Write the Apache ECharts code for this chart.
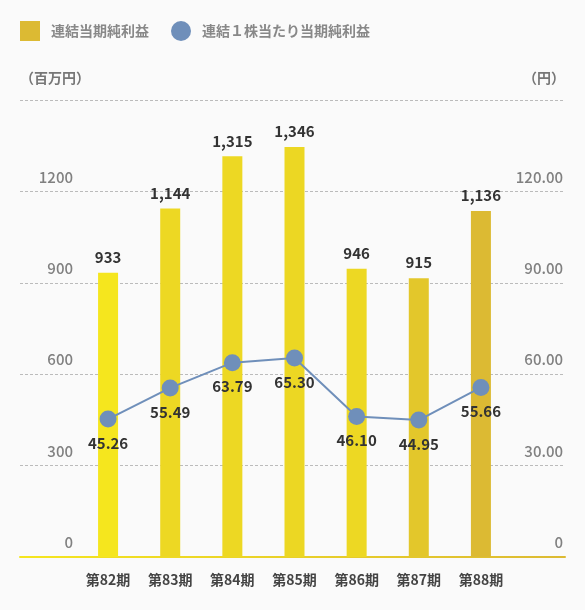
<!DOCTYPE html>
<html lang="ja">

<head>
    <meta charset="UTF-8">
    <title>連結当期純利益</title>
    <style>
        html, body { margin: 0; padding: 0; background: #fafafa; }
    </style>
</head>

<body>
    <div id="main" style="width: 585px;height:610px;"></div>
</body>
<script src="https://cdn.jsdelivr.net/npm/echarts@6/dist/echarts.min.js"></script>

<script>
    // データ
    var periods = ['第82期', '第83期', '第84期', '第85期', '第86期', '第87期', '第88期'];
    var netIncome = [933, 1144, 1315, 1346, 946, 915, 1136];
    var eps = [45.26, 55.49, 63.79, 65.30, 46.10, 44.95, 55.66];
    var leftTicks = [0, 300, 600, 900, 1200];
    var rightTicks = [0, 30, 60, 90, 120];

    var barColors = ['#f5e61e', '#edd823', '#edd823', '#ecd723', '#edd823', '#e3c72b', '#dcba33'];
    var font = '"Noto Sans CJK JP", "Noto Sans", sans-serif';

    var myChart = echarts.init(document.getElementById('main'));

    myChart.setOption({
        backgroundColor: '#fafafa',
        textStyle: { fontFamily: font },
        legend: {
            left: 15,
            top: 16,
            itemWidth: 20,
            itemHeight: 20,
            itemGap: 22,
            textStyle: { color: '#888', fontSize: 14, fontWeight: 'bold', padding: [0, 0, 0, 6] },
            data: [
                { name: '連結当期純利益', icon: 'rect' },
                { name: '連結１株当たり当期純利益', icon: 'circle' }
            ]
        },
        grid: [
            // 罫線・目盛用
            { left: 20, right: 20, top: 100, bottom: 53 },
            // 棒・線用
            { left: 77, right: 73, top: 100, bottom: 53 }
        ],
        xAxis: [{
            gridIndex: 0,
            type: 'value',
            min: 0,
            max: 1,
            axisLabel: { show: false },
            axisTick: { show: false },
            splitLine: { show: false },
            axisLine: {
                show: true,
                onZero: false,
                lineStyle: {
                    width: 2,
                    color: new echarts.graphic.LinearGradient(0, 0, 1, 0, [
                        { offset: 0, color: '#f5e61e' },
                        { offset: 1, color: '#dcba33' }
                    ])
                }
            }
        }, {
            gridIndex: 1,
            type: 'category',
            data: periods,
            axisLine: { show: false },
            axisTick: { show: false },
            axisLabel: { color: '#444', fontSize: 14, fontWeight: 'bold', margin: 16 }
        }],
        yAxis: [{
            gridIndex: 0,
            type: 'value',
            min: 0,
            max: 1500,
            interval: 300,
            name: '（百万円）',
            nameLocation: 'end',
            nameGap: 22,
            nameTextStyle: { color: '#777', fontSize: 14, fontWeight: 'bold', align: 'left', verticalAlign: 'middle' },
            axisLine: { show: false },
            axisTick: { show: false },
            axisLabel: {
                color: '#808080',
                fontSize: 15,
                fontWeight: 500,
                margin: -53,
                align: 'right',
                verticalAlign: 'bottom',
                padding: [0, 0, 7, 0],
                formatter: function (v) {
                    return leftTicks.indexOf(v) >= 0 ? String(v) : '';
                }
            },
            splitLine: { lineStyle: { color: '#bbb', type: [3, 2], width: 1 } }
        }, {
            gridIndex: 0,
            type: 'value',
            position: 'right',
            min: 0,
            max: 150,
            interval: 30,
            name: '（円）',
            nameLocation: 'end',
            nameGap: 22,
            nameTextStyle: { color: '#777', fontSize: 14, fontWeight: 'bold', align: 'right', verticalAlign: 'middle' },
            axisLine: { show: false },
            axisTick: { show: false },
            axisLabel: {
                color: '#808080',
                fontSize: 15,
                fontWeight: 500,
                margin: -2,
                align: 'right',
                verticalAlign: 'bottom',
                padding: [0, 0, 7, 0],
                formatter: function (v) {
                    if (rightTicks.indexOf(v) < 0) return '';
                    return v === 0 ? '0' : v.toFixed(2);
                }
            },
            splitLine: { show: false }
        }, {
            gridIndex: 1,
            type: 'value',
            min: 0,
            max: 1500,
            show: false
        }, {
            gridIndex: 1,
            type: 'value',
            min: 0,
            max: 150,
            show: false
        }],
        series: [{
            name: '連結当期純利益',
            type: 'bar',
            xAxisIndex: 1,
            yAxisIndex: 2,
            barWidth: 20,
            itemStyle: { color: '#dcba33' },
            data: netIncome.map(function (v, i) {
                return { value: v, itemStyle: { color: barColors[i] } };
            }),
            label: {
                show: true,
                position: 'top',
                distance: 8,
                color: '#333',
                fontSize: 15,
                fontWeight: 'bold',
                formatter: function (p) {
                    return p.value.toLocaleString('en-US');
                }
            },
            z: 2
        }, {
            name: '連結１株当たり当期純利益',
            type: 'line',
            xAxisIndex: 1,
            yAxisIndex: 3,
            data: eps,
            symbol: 'circle',
            symbolSize: 17,
            itemStyle: { color: '#6f8fba' },
            lineStyle: { color: '#6f8fba', width: 2 },
            label: {
                show: true,
                position: 'bottom',
                distance: 8,
                color: '#333',
                fontSize: 15,
                fontWeight: 'bold',
                formatter: function (p) {
                    return p.value.toFixed(2);
                }
            },
            z: 3
        }]
    });
</script>

</html>
